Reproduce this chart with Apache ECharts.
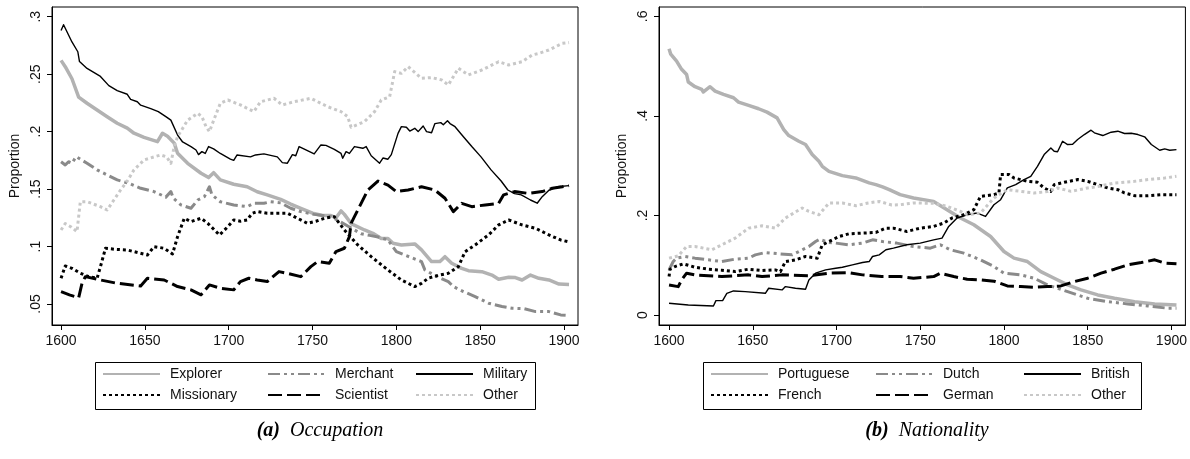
<!DOCTYPE html>
<html><head><meta charset="utf-8">
<script src="https://cdn.jsdelivr.net/npm/echarts@6/dist/echarts.min.js"></script>
<style>html,body{margin:0;padding:0;background:#fff}#c{width:1190px;height:459px}</style>
</head><body><div id="c"></div>
<script>
// ---------- data ----------
const xTicks = [1600, 1650, 1700, 1750, 1800, 1850, 1900];
const occYTicks = [0.05, 0.1, 0.15, 0.2, 0.25, 0.3];
const natYTicks = [0, 0.2, 0.4, 0.6];
const occNames = ['Explorer', 'Merchant', 'Military', 'Missionary', 'Scientist', 'Other'];
const natNames = ['Portuguese', 'Dutch', 'British', 'French', 'German', 'Other'];
const captions = ['(a)', 'Occupation', '(b)', 'Nationality'];

const explorer = [[1600,.262],[1602.5,.2565],[1606.5,.246],[1610.5,.230],[1615.5,.2247],[1621.5,.2188],[1627.5,.213],[1633.5,.2073],[1639.5,.203],[1643.5,.1986],[1649.5,.195],[1657.5,.1913],[1660.5,.1986],[1663.5,.196],[1667.5,.19],[1669.5,.1812],[1675.5,.1724],[1683.5,.1638],[1688,.160],[1691,.1643],[1695,.158],[1703,.1542],[1711,.152],[1717,.1477],[1723,.1449],[1731,.141],[1737,.137],[1743,.1333],[1750,.129],[1756,.127],[1761,.127],[1764,.125],[1767,.131],[1769,.128],[1773,.120],[1781,.1144],[1786,.1115],[1791,.107],[1795,.107],[1798,.1028],[1803,.1014],[1811,.1023],[1815,.0971],[1821,.0869],[1826,.0869],[1829,.0912],[1833,.0855],[1839,.081],[1843,.079],[1851,.0781],[1857,.0752],[1861,.0715],[1867,.0732],[1871,.073],[1875,.0709],[1880,.0752],[1885,.0724],[1891,.0709],[1897,.0674],[1903,.067]];
const merchant = [[1600,.1738],[1602.5,.171],[1604.5,.1738],[1606.5,.1725],[1609,.1782],[1615.5,.1725],[1621.5,.1667],[1627.5,.1623],[1633.5,.158],[1640.5,.155],[1647.5,.1507],[1655.5,.1478],[1662.5,.143],[1665.5,.1478],[1667,.142],[1671.5,.1362],[1677.5,.1333],[1681.5,.1405],[1685.5,.1434],[1688.5,.152],[1690,.145],[1695,.139],[1703,.1362],[1711,.1347],[1715,.1376],[1721,.1376],[1725,.139],[1731,.138],[1737,.1333],[1743,.1304],[1751,.128],[1761,.126],[1766,.122],[1772,.117],[1779,.1111],[1784,.1097],[1790,.108],[1795,.1057],[1800,.0956],[1805,.0926],[1815,.0869],[1817,.0797],[1824,.074],[1831,.0695],[1834,.0652],[1840,.0608],[1847,.0565],[1855,.0507],[1863,.0478],[1869,.0463],[1876,.046],[1883,.0434],[1891,.0434],[1898,.0405],[1903,.040]];
const military = [[1600,.288],[1601.5,.293],[1606.5,.278],[1610,.2695],[1611,.261],[1615.5,.255],[1619,.252],[1623.5,.248],[1628.5,.240],[1633.5,.2356],[1639.5,.2325],[1641.5,.228],[1645.5,.226],[1647.5,.223],[1653.5,.220],[1658,.2174],[1662.5,.213],[1665.5,.210],[1669.5,.197],[1672.5,.191],[1677.5,.187],[1680.5,.184],[1682,.180],[1684,.1826],[1686,.181],[1688,.187],[1691,.185],[1695,.181],[1701,.176],[1703,.175],[1705,.1797],[1713,.178],[1716,.1797],[1721,.1806],[1729,.178],[1732,.173],[1735,.1725],[1738,.18],[1740,.179],[1742,.187],[1751,.1806],[1755,.1884],[1758,.188],[1763,.1846],[1767,.181],[1768,.1768],[1770,.1826],[1772,.181],[1775,.187],[1780,.1855],[1782,.187],[1785,.179],[1790,.1725],[1792,.177],[1795,.176],[1797,.180],[1801,.1985],[1803,.2043],[1806,.2038],[1808,.2005],[1811,.2029],[1813,.200],[1816,.2049],[1818,.200],[1821,.199],[1823,.207],[1826.5,.2078],[1828,.206],[1830.5,.2095],[1832,.207],[1835,.2043],[1840,.1956],[1845,.187],[1850.5,.178],[1856.5,.1667],[1862.5,.157],[1866.5,.1492],[1870.5,.146],[1874.5,.145],[1880,.1405],[1884,.1377],[1887,.1434],[1891,.149],[1896,.152],[1903,.153]];
const missionary = [[1600,.0724],[1602.5,.0831],[1606.5,.081],[1611.5,.0768],[1616.5,.0738],[1621.5,.0724],[1623.5,.0825],[1626.5,.0985],[1633,.0975],[1639.5,.097],[1645,.095],[1651.5,.0927],[1655.5,.0999],[1661.5,.0985],[1666.5,.0935],[1669.5,.1086],[1673.5,.1246],[1677.5,.1217],[1683.5,.1246],[1687.5,.1202],[1694.5,.1101],[1699.5,.1173],[1703,.1231],[1707,.122],[1711,.1231],[1714,.1289],[1717,.1304],[1723,.1289],[1729,.1289],[1735,.129],[1741,.1246],[1747,.1202],[1752,.122],[1757,.1246],[1763,.126],[1769,.1144],[1777,.1014],[1785,.0912],[1795,.0796],[1803,.0709],[1811,.0652],[1815,.068],[1819,.0724],[1825,.075],[1831,.0767],[1837,.0825],[1841,.0955],[1847,.1014],[1855,.1101],[1861,.1188],[1867,.1231],[1875,.1188],[1883,.1159],[1891,.1101],[1898,.1057],[1903,.104]];
const scientist = [[1600,.0607],[1605,.058],[1610.5,.0555],[1612.5,.068],[1614.5,.0738],[1623.5,.0709],[1633.5,.068],[1647.5,.0657],[1651.5,.0724],[1661.5,.0709],[1669.5,.0652],[1677.5,.0623],[1683.5,.058],[1688.5,.0666],[1695,.0637],[1703,.0623],[1707,.0695],[1712,.0724],[1717,.0709],[1723,.0695],[1730,.0782],[1735,.0767],[1743,.0738],[1749,.0825],[1753,.0869],[1760,.0855],[1764,.0956],[1769,.0985],[1772,.1086],[1773,.1202],[1775,.126],[1779,.1376],[1783,.1492],[1789,.157],[1795,.1535],[1800,.1478],[1807,.1492],[1815,.152],[1823,.1492],[1829,.142],[1834,.1304],[1839,.1376],[1845,.1347],[1853,.1362],[1861,.1376],[1864,.145],[1870.5,.1478],[1878.5,.1463],[1887,.1478],[1893,.1507],[1899,.152],[1903,.153]];
const occOther = [[1600,.1144],[1602.5,.120],[1606,.117],[1609.5,.113],[1611.5,.139],[1615.5,.139],[1623.5,.1347],[1627.5,.1318],[1631.5,.1405],[1635.5,.1492],[1639.5,.157],[1643.5,.1667],[1649.5,.1753],[1655.5,.178],[1659.5,.1797],[1663,.178],[1665.5,.1724],[1667.5,.187],[1669.5,.1956],[1675.5,.210],[1681.5,.2159],[1684,.213],[1686.5,.2043],[1688.5,.200],[1691.5,.2116],[1695,.2246],[1699.5,.2275],[1707,.2232],[1715,.2174],[1719,.226],[1727,.229],[1732,.2232],[1739,.226],[1749,.229],[1759,.2217],[1767,.2174],[1771,.213],[1773,.2038],[1781,.2087],[1787,.2174],[1791,.2275],[1796,.2304],[1799,.2522],[1803,.2507],[1807,.2565],[1815,.2464],[1821,.247],[1827,.245],[1831,.2406],[1837,.2551],[1843,.2493],[1851,.2536],[1861,.2608],[1867,.258],[1875,.2608],[1881,.2667],[1885,.2681],[1891,.271],[1899,.2768],[1903,.2775]];

const portuguese = [[1600,.535],[1601,.524],[1604.5,.51],[1607.5,.4935],[1610.5,.483],[1611.5,.468],[1615.5,.4586],[1619.5,.4532],[1620.5,.448],[1624.5,.4586],[1627.5,.4498],[1632.5,.4431],[1638.5,.4364],[1641.5,.4276],[1647.5,.421],[1653.5,.4143],[1658.5,.4075],[1664.5,.396],[1668.5,.3726],[1671.5,.3605],[1677.5,.349],[1681.5,.3424],[1685.5,.3223],[1689.5,.3088],[1691.5,.2987],[1695.5,.2886],[1703.5,.28],[1711.5,.2753],[1719.5,.2653],[1723.5,.2619],[1727.5,.2572],[1731.5,.2518],[1738,.2417],[1746,.235],[1758,.2282],[1766,.2115],[1774,.1948],[1782,.1813],[1792,.1577],[1800,.1275],[1806,.1142],[1814,.1074],[1822,.0872],[1830,.0739],[1838,.0604],[1846,.0504],[1856,.0403],[1866,.0336],[1878,.0268],[1890,.0222],[1903,.0201]];
const dutch = [[1600,.0906],[1602.5,.1074],[1604.5,.1142],[1609.5,.1175],[1615.5,.1142],[1623.5,.1108],[1631.5,.1074],[1639.5,.1122],[1647.5,.1142],[1651.5,.1208],[1657.5,.1255],[1665.5,.1229],[1673.5,.1208],[1677.5,.1275],[1683.5,.1376],[1687.5,.1476],[1690,.152],[1695,.146],[1699.5,.1444],[1707.5,.141],[1715.5,.1444],[1721.5,.151],[1727.5,.1476],[1736,.1444],[1746,.1376],[1756,.1343],[1762,.141],[1768,.131],[1776,.1242],[1786,.1108],[1794,.0973],[1800,.084],[1810,.0806],[1818,.0739],[1826,.0604],[1838,.0469],[1850,.0336],[1862,.0268],[1874,.0222],[1886,.0181],[1898,.0135],[1903,.0135]];
const british = [[1600,.0235],[1611.5,.0201],[1626.5,.0181],[1628,.0289],[1632,.0289],[1634.5,.0436],[1638.5,.0483],[1645.5,.047],[1657.5,.0436],[1659.5,.0537],[1667.5,.0504],[1669.5,.057],[1675.5,.0537],[1681.5,.0517],[1683.5,.0705],[1687.5,.084],[1693.5,.0906],[1699.5,.094],[1703.5,.096],[1709.5,.1007],[1715.5,.1054],[1719.5,.1074],[1721.5,.1175],[1725.5,.1208],[1729.5,.131],[1734,.1343],[1742,.141],[1750,.1444],[1758,.151],[1763,.1544],[1767,.1779],[1772,.1948],[1778,.2014],[1784,.2048],[1789,.198],[1794,.2215],[1798,.2316],[1802,.2552],[1807,.2618],[1812,.272],[1816,.2786],[1820,.2987],[1824,.3223],[1828,.3357],[1830,.329],[1832,.328],[1835,.349],[1838,.3424],[1841,.343],[1844,.3525],[1848,.3625],[1852,.3712],[1854,.366],[1859,.3605],[1864,.3672],[1868,.3692],[1872,.3646],[1876,.365],[1880,.3625],[1884,.3579],[1888,.3424],[1893,.3309],[1896,.3337],[1899,.331],[1903,.3323]];
const french = [[1600,.0772],[1600.6,.092],[1603.5,.0973],[1608.5,.1027],[1615.5,.096],[1623.5,.092],[1631.5,.09],[1639.5,.0872],[1647.5,.092],[1655.5,.0893],[1663.5,.0906],[1666.5,.0872],[1669.5,.1074],[1675.5,.1108],[1681.5,.1175],[1688.5,.1142],[1691.5,.141],[1695.5,.1476],[1701.5,.1577],[1707.5,.1631],[1715.5,.1645],[1723.5,.1658],[1729.5,.1745],[1734,.1745],[1742,.1678],[1750,.1745],[1758,.1779],[1764,.1846],[1769,.1948],[1776,.2014],[1782,.2115],[1786,.2383],[1794,.2417],[1797,.245],[1798,.282],[1803,.282],[1806,.2752],[1814,.2685],[1820,.2665],[1824,.2551],[1828,.2484],[1830,.2618],[1836,.2665],[1844,.272],[1850,.2685],[1856,.2618],[1862,.2552],[1868,.2518],[1872,.2451],[1878,.2397],[1886,.2397],[1894,.2417],[1903,.2417]];
const german = [[1600,.0604],[1605.5,.057],[1607.5,.0705],[1610.5,.084],[1615.5,.0806],[1631.5,.0772],[1647.5,.0806],[1655.5,.0772],[1667.5,.0806],[1683.5,.079],[1695.5,.084],[1707.5,.085],[1715.5,.0806],[1727,.0772],[1738,.0772],[1746,.0739],[1758,.0772],[1762,.084],[1770,.0772],[1778,.0719],[1786,.0705],[1794,.068],[1802,.0584],[1810,.057],[1818,.0557],[1826,.057],[1834,.0584],[1842,.0671],[1850,.0739],[1858,.084],[1866,.092],[1874,.1007],[1882,.1054],[1890,.1108],[1896,.1041],[1903,.1027]];
const natOther = [[1600,.1142],[1605.5,.1188],[1610.5,.1376],[1615.5,.1376],[1625.5,.131],[1631.5,.141],[1639.5,.1544],[1647.5,.1745],[1655.5,.1792],[1663.5,.1745],[1669.5,.1948],[1679.5,.2149],[1683.5,.2081],[1689.5,.2014],[1695.5,.225],[1703.5,.225],[1711.5,.2195],[1719,.225],[1725.5,.2282],[1733,.221],[1738,.2215],[1746,.225],[1758,.2245],[1766,.2182],[1774,.2081],[1778,.2014],[1786,.2048],[1794,.235],[1802,.2518],[1810,.2484],[1818,.245],[1826,.248],[1832,.2552],[1840,.2484],[1850,.2552],[1856,.258],[1866,.2652],[1878,.2685],[1886,.272],[1896,.2752],[1903,.2786]];

// ---------- styling ----------
const FONT = 'Liberation Sans';
const SERIF = 'Liberation Serif';
const styles = [
  {color:'#b2b2b2', width:3.5, type:'solid'},
  {color:'#8a8a8a', width:3, type:[12,4,3,4,3,4]},
  {color:'#000000', width:1.4, type:'solid'},
  {color:'#000000', width:3, type:[3,3]},
  {color:'#000000', width:3, type:[14,5]},
  {color:'#c8c8c8', width:3, type:[3,3]}
];
const occData = [explorer, merchant, military, missionary, scientist, occOther];
const natData = [portuguese, dutch, british, french, german, natOther];

const fmt = v => v === 0 ? '0' : String(+v.toFixed(3)).replace(/^0\./, '.');

function xAxis(gridIndex, min, max) {
  return {
    type:'value', gridIndex, min, max,
    axisLine:{show:true, onZero:false, lineStyle:{color:'#000', width:1}},
    axisTick:{show:true, length:5, customValues:xTicks, lineStyle:{color:'#000'}},
    axisLabel:{customValues:xTicks, margin:9, color:'#111', fontFamily:FONT, fontSize:14, formatter:v=>String(v)},
    splitLine:{show:false}
  };
}
function yAxis(gridIndex, min, max, ticks) {
  return {
    type:'value', gridIndex, min, max,
    name:'Proportion', nameLocation:'middle', nameGap:30, nameRotate:90,
    nameTextStyle:{color:'#111', fontFamily:FONT, fontSize:14},
    axisLine:{show:true, onZero:false, lineStyle:{color:'#000', width:1}},
    axisTick:{show:true, length:5, customValues:ticks, lineStyle:{color:'#000'}},
    axisLabel:{customValues:ticks, rotate:90, margin:9, color:'#111', fontFamily:FONT, fontSize:14, formatter:fmt},
    splitLine:{show:false}
  };
}

const series = [];
occNames.forEach((n,i)=>series.push({name:n, type:'line', xAxisIndex:0, yAxisIndex:0, data:occData[i], symbol:'none', smooth:false,
  lineStyle:{color:styles[i].color, width:styles[i].width, type:styles[i].type, cap:'butt', join:'round'}, itemStyle:{color:styles[i].color}, z:2}));
natNames.forEach((n,i)=>series.push({name:n, type:'line', xAxisIndex:1, yAxisIndex:1, data:natData[i], symbol:'none', smooth:false,
  lineStyle:{color:styles[i].color, width:styles[i].width, type:styles[i].type, cap:'butt', join:'round'}, itemStyle:{color:styles[i].color}, z:2}));

// legend layout (3 columns x 2 rows per panel)
const boxes = [{left:95, top:362, width:440, height:47}, {left:703, top:362, width:438, height:47}];
const colIcon = [7, 172, 320];
const rowTop = [367, 388];
const legends = [];
[occNames, natNames].forEach((names, p) => {
  names.forEach((n, k) => {
    const col = k % 3, row = Math.floor(k / 3);
    legends.push({
      data:[n], left: boxes[p].left + colIcon[col], top: rowTop[row],
      itemWidth:57, itemHeight:14, itemGap:0, padding:0, selectedMode:false,
      itemStyle:{opacity:0},
      textStyle:{color:'#111', fontFamily:FONT, fontSize:14, padding:[0,0,0,5]}
    });
  });
});

const capRich = {
  b:{fontFamily:SERIF, fontStyle:'italic', fontWeight:'bold', fontSize:20, color:'#000'},
  i:{fontFamily:SERIF, fontStyle:'italic', fontWeight:'normal', fontSize:20, color:'#000'}
};

const chart = echarts.init(document.getElementById('c'), null, {renderer:'canvas'});
chart.setOption({
  animation:false,
  backgroundColor:'#fff',
  grid:[
    {left:52, top:7, width:526, height:318, show:true, borderColor:'#000', borderWidth:1, containLabel:false},
    {left:659, top:7, width:527, height:318, show:true, borderColor:'#000', borderWidth:1, containLabel:false}
  ],
  xAxis:[xAxis(0, 1594.6, 1908.35), xAxis(1, 1594.0, 1908.35)],
  yAxis:[yAxis(0, 0.03173, 0.30844, occYTicks), yAxis(1, -0.0201, 0.6187, natYTicks)],
  legend: legends,
  title:[
    {left:315, top:416, textAlign:'center', text:'{b|' + captions[0] + '}  {i|' + captions[1] + '}',
     textStyle:{fontWeight:'normal', rich:capRich}},
    {left:922, top:416, textAlign:'center', text:'{b|' + captions[2] + '}  {i|' + captions[3] + '}',
     textStyle:{fontWeight:'normal', rich:capRich}}
  ],
  graphic: boxes.map(b => ({type:'rect', shape:{x:b.left+0.5, y:b.top+0.5, width:b.width, height:b.height}, style:{fill:null, stroke:'#000', lineWidth:1}, silent:true})),
  series
});
</script>
</body></html>
